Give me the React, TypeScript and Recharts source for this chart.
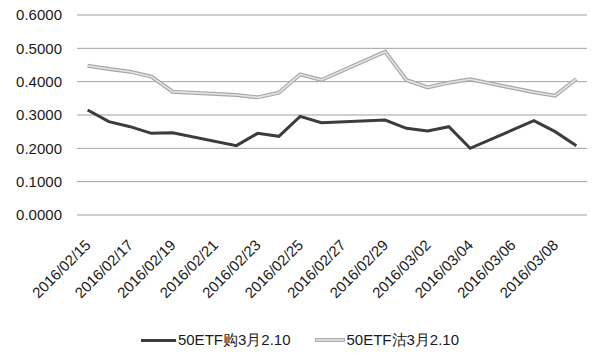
import { LineChart, Line, XAxis, YAxis, CartesianGrid, Legend } from 'recharts';

const tradingDays = [
  '2016/02/15', '2016/02/16', '2016/02/17', '2016/02/18', '2016/02/19',
  '2016/02/22', '2016/02/23', '2016/02/24', '2016/02/25', '2016/02/26',
  '2016/02/29', '2016/03/01', '2016/03/02', '2016/03/03', '2016/03/04',
  '2016/03/07', '2016/03/08', '2016/03/09'
];
const callValues = [
  0.315, 0.28, 0.265, 0.245, 0.247, 0.208, 0.245, 0.236, 0.296, 0.277,
  0.285, 0.26, 0.252, 0.265, 0.2, 0.283, 0.25, 0.208
];
const putValues = [
  0.448, 0.438, 0.43, 0.415, 0.37, 0.36, 0.353, 0.367, 0.422, 0.405,
  0.49, 0.405, 0.383, 0.397, 0.407, 0.368, 0.358, 0.408
];
const tickLabels = [
  '2016/02/15', '2016/02/17', '2016/02/19', '2016/02/21', '2016/02/23', '2016/02/25',
  '2016/02/27', '2016/02/29', '2016/03/02', '2016/03/04', '2016/03/06', '2016/03/08'
];
const yTicks = [0, 0.1, 0.2, 0.3, 0.4, 0.5, 0.6];
const callName = '50ETF购3月2.10';
const putName = '50ETF沽3月2.10';

const FONT = '"Liberation Sans", Arial, sans-serif';
const DAY = 86400000;
const start = Date.parse(tradingDays[0]);
const dayIndex = (d: string) => Math.round((Date.parse(d) - start) / DAY);

const data = tradingDays.map((d, i) => ({
  day: dayIndex(d),
  call: callValues[i],
  put: putValues[i]
}));
const tickIdx = tickLabels.map(dayIndex);

function DateTick({ x, y, payload }: any) {
  const label = tickLabels[tickIdx.indexOf(payload.value)] ?? '';
  const ax = x + 4;
  const ay = y + 31;
  return (
    <text
      x={ax}
      y={ay}
      transform={`rotate(-45, ${ax}, ${ay})`}
      textAnchor='end'
      fontSize={15}
      fontFamily={FONT}
      fill='#1a1a1a'
    >
      {label}
    </text>
  );
}

function ChartLegend() {
  const item = (name: string, swatch: any) => (
    <div style={{ display: 'flex', alignItems: 'center' }}>
      {swatch}
      <span style={{ marginLeft: 2 }}>{name}</span>
    </div>
  );
  return (
    <div
      style={{
        display: 'flex',
        justifyContent: 'center',
        alignItems: 'center',
        gap: 24,
        height: 44,
        paddingLeft: 13,
        paddingTop: 6,
        boxSizing: 'border-box',
        fontFamily: FONT,
        fontSize: 15,
        color: '#1a1a1a'
      }}
    >
      {item(callName, <div style={{ width: 35, height: 3, background: '#3c3c3c' }} />)}
      {item(
        putName,
        <div
          style={{
            width: 28,
            height: 2,
            background: '#d8d8d8',
            border: '1px solid #b0b0b0'
          }}
        />
      )}
    </div>
  );
}

export default function App() {
  return (
    <div style={{ position: 'absolute', left: 0, top: 0, background: '#fff' }}>
      <LineChart
        width={600}
        height={359}
        data={data}
        margin={{ top: 15, right: 13, bottom: 0, left: 0 }}
      >
        <CartesianGrid vertical={false} stroke='#a0a0a0' strokeWidth={1} />
        <XAxis
          dataKey='day'
          type='number'
          domain={[-0.5, 23.5]}
          ticks={tickIdx}
          interval={0}
          axisLine={false}
          tickLine={false}
          tickSize={0}
          tickMargin={0}
          height={100}
          tick={<DateTick />}
        />
        <YAxis
          domain={[0, 0.6]}
          ticks={yTicks}
          width={77}
          axisLine={false}
          tickLine={false}
          tickSize={0}
          tickMargin={15}
          tickFormatter={(v: number) => v.toFixed(4)}
          tick={{ fontSize: 15, fontFamily: FONT, fill: '#1a1a1a' }}
        />
        <Legend verticalAlign='bottom' height={44} content={<ChartLegend />} />
        <Line
          dataKey='put'
          stroke='#a8a8a8'
          strokeWidth={4}
          dot={false}
          legendType='none'
          isAnimationActive={false}
        />
        <Line
          dataKey='put'
          stroke='#e4e4e4'
          strokeWidth={1.6}
          dot={false}
          legendType='none'
          isAnimationActive={false}
        />
        <Line
          dataKey='call'
          stroke='#3c3c3c'
          strokeWidth={3}
          dot={false}
          legendType='none'
          isAnimationActive={false}
        />
      </LineChart>
    </div>
  );
}
